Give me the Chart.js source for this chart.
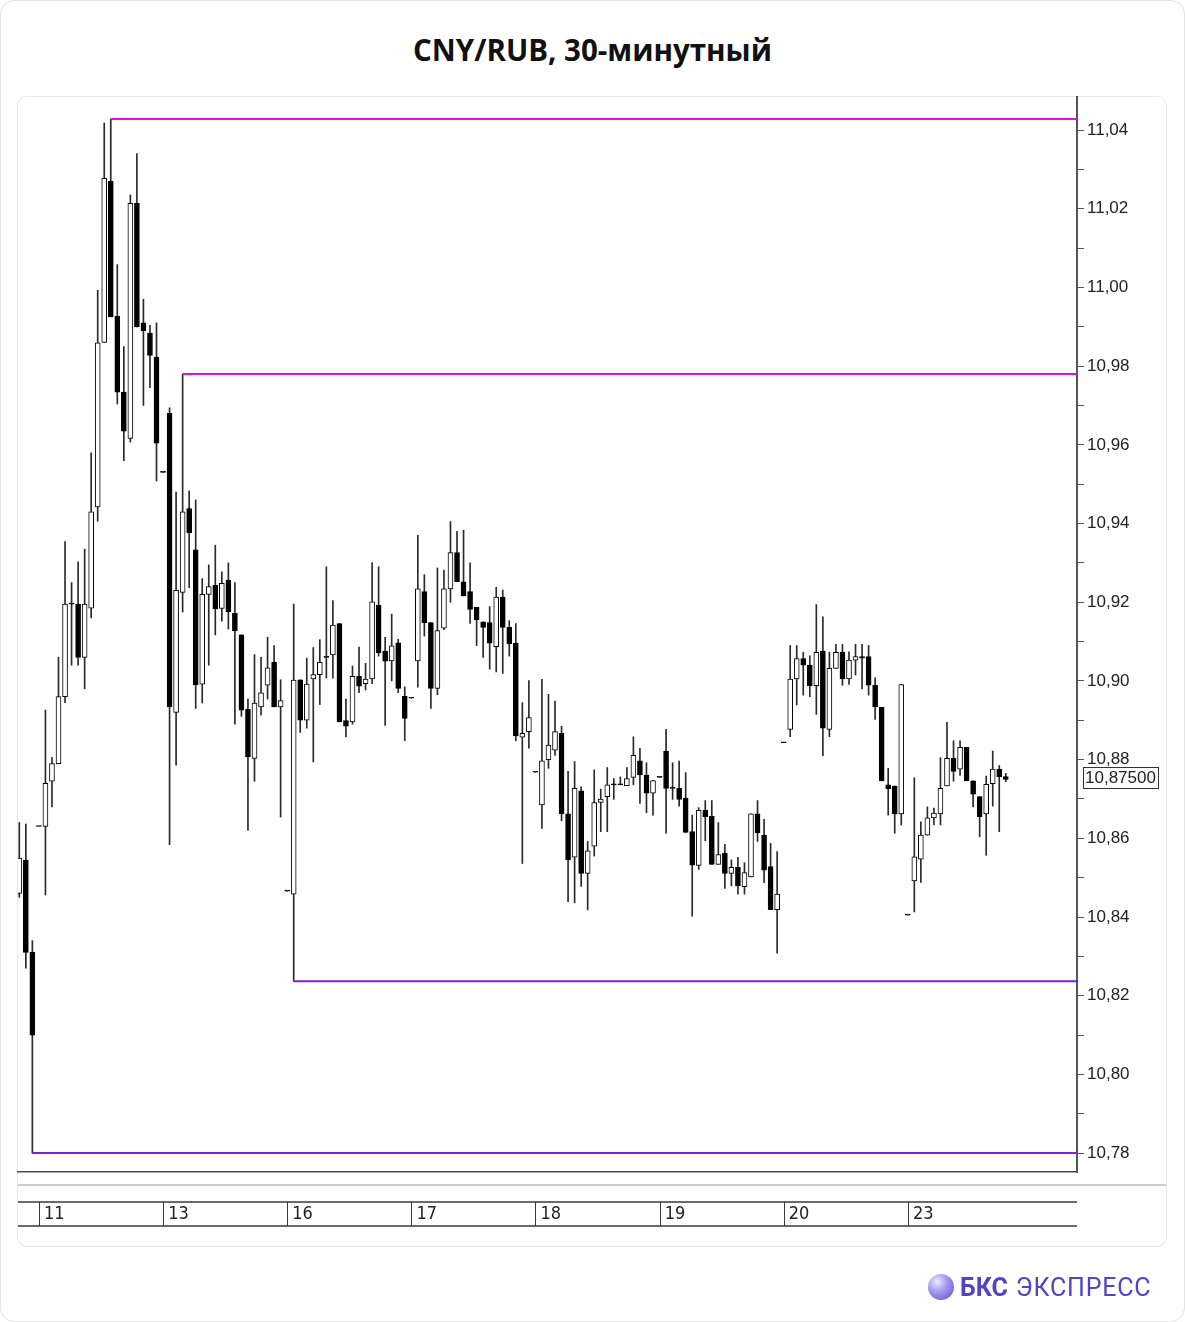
<!DOCTYPE html>
<html><head><meta charset="utf-8">
<script src="https://cdn.jsdelivr.net/npm/chart.js@4.4.1/dist/chart.umd.min.js"></script>
<style>
html,body{margin:0;padding:0;background:#fff;}
#page{position:relative;width:1185px;height:1322px;overflow:hidden;background:#fff;}
#frame{position:absolute;left:0;top:0;width:1183px;height:1320px;border:1px solid #e3e3e3;border-radius:14px;}
#card{position:absolute;left:17px;top:96px;width:1148px;height:1149px;border:1px solid #e8e8e8;border-radius:10px;}
#sep{position:absolute;left:18px;top:1184px;width:1148px;height:2px;background:#cdcdcd;}
#title{position:absolute;left:0;top:29px;width:1185px;text-align:center;font:700 29.5px 'Open Sans',sans-serif;color:#111;}
#logo{position:absolute;left:928px;top:1272px;height:30px;display:flex;align-items:center;font-family:'Roboto','Noto Sans',sans-serif;color:#5344c2;}
#logo .dot{width:26px;height:26px;border-radius:50%;background:radial-gradient(circle at 35% 30%,#eeeaff 0%,#a79af0 40%,#5a49c9 100%);margin-right:6px;}
#logo .b{font-weight:700;font-size:25px;margin-right:8px;}
#logo .r{font-weight:400;font-size:25px;letter-spacing:0.8px;}
canvas{position:absolute;left:0;top:0;}
</style></head>
<body><div id="page">
<div id="frame"></div>
<div id="card"></div>
<div id="sep"></div>
<div id="title">CNY/RUB, 30-минутный</div>
<canvas id="c" width="1185" height="1322"></canvas>
<div id="logo"><div class="dot"></div><span class="b">БКС</span><span class="r">ЭКСПРЕСС</span></div>
</div>
<script>
// ---- data (one entry per 30-minute slot) ----
const opens = [10.846,10.8545,10.831,10.863,10.863,10.8745,10.879,10.896,10.9195,10.9195,10.906,10.9185,10.9442,10.986,11.027,10.9927,10.9734,10.9616,11.0214,10.991,10.9884,10.9823,10.953,10.968,10.892,10.9225,10.9438,10.9333,10.8992,10.922,10.9243,10.9184,10.9256,10.9172,10.9117,10.8928,10.8803,10.8934,10.8989,10.9048,10.8934,10.8466,10.8458,10.9003,10.890,10.9005,10.9016,10.906,10.9066,10.9146,10.8899,10.8896,10.9012,10.8993,10.9005,10.9193,10.9076,10.9051,10.9097,10.8961,10.8956,10.9051,10.9227,10.9148,10.8981,10.9134,10.9234,10.9326,10.9252,10.9227,10.9187,10.915,10.9148,10.9087,10.9213,10.9136,10.9096,10.8857,10.8871,10.8768,10.8685,10.880,10.8824,10.8867,10.8662,10.8552,10.8721,10.8511,10.858,10.8691,10.8706,10.8736,10.8736,10.8734,10.8755,10.8797,10.8761,10.8715,10.8755,10.8822,10.8727,10.8727,10.8702,10.8617,10.8531,10.8671,10.8656,10.8534,10.8562,10.8511,10.8526,10.8477,10.8502,10.8662,10.8608,10.8528,10.8419,10.8843,10.8877,10.9005,10.9057,10.904,10.8988,10.9076,10.8877,10.9032,10.9073,10.9005,10.9053,10.9062,10.9062,10.8989,10.8933,10.8736,10.8733,10.8662,10.8405,10.8492,10.8547,10.8608,10.8652,10.8662,10.8733,10.8803,10.8776,10.8831,10.8746,10.8706,10.8662,10.8739,10.8776,10.8757];
const highs = [10.864,10.8636,10.834,10.863,10.8926,10.8806,10.906,10.9354,10.925,10.9303,10.9335,10.958,10.9993,11.0418,11.0428,11.0058,10.985,11.0235,11.034,10.997,10.9904,10.991,10.953,10.9694,10.948,10.978,10.9483,10.946,10.926,10.9295,10.9345,10.9277,10.930,10.925,10.9117,10.8954,10.9067,10.906,10.9111,10.909,10.9003,10.8466,10.9195,10.9003,10.9058,10.9085,10.9105,10.929,10.9204,10.9146,10.8954,10.9038,10.9086,10.9045,10.9301,10.929,10.9111,10.917,10.9106,10.8985,10.8956,10.937,10.927,10.9148,10.9287,10.9282,10.9405,10.938,10.9383,10.930,10.9187,10.915,10.9189,10.9238,10.9231,10.9153,10.9146,10.8945,10.9001,10.8768,10.9004,10.8966,10.8949,10.8885,10.877,10.8795,10.8731,10.8592,10.8774,10.8725,10.878,10.8752,10.8756,10.878,10.8858,10.8829,10.8792,10.8747,10.8755,10.8877,10.8792,10.8796,10.8767,10.8659,10.8678,10.8696,10.8696,10.864,10.8585,10.8545,10.8552,10.8538,10.8662,10.8696,10.8648,10.8587,10.8566,10.8843,10.909,10.909,10.9073,10.9064,10.9194,10.9163,10.9073,10.9093,10.9093,10.9074,10.9093,10.9093,10.909,10.9008,10.8933,10.8778,10.8733,10.8991,10.8405,10.8754,10.8642,10.868,10.8677,10.8805,10.8895,10.8848,10.8848,10.8831,10.8746,10.8706,10.8758,10.8822,10.8785,10.8765];
const lows = [10.845,10.827,10.780,10.863,10.8456,10.868,10.879,10.8945,10.904,10.904,10.898,10.916,10.9406,10.986,10.9925,10.9704,10.956,10.9607,10.99,10.970,10.9745,10.9508,10.953,10.8584,10.8786,10.9175,10.9237,10.893,10.8944,10.904,10.9117,10.9152,10.9132,10.889,10.891,10.862,10.8745,10.8913,10.8954,10.8934,10.8654,10.8466,10.8237,10.8869,10.888,10.8794,10.894,10.9008,10.9007,10.8896,10.8858,10.889,10.897,10.8977,10.8993,10.9063,10.8887,10.900,10.897,10.8848,10.8956,10.8984,10.9114,10.893,10.8965,10.913,10.920,10.9252,10.9216,10.9146,10.909,10.906,10.903,10.9023,10.9019,10.9063,10.8848,10.8536,10.8829,10.8768,10.8625,10.8778,10.8811,10.8645,10.8439,10.8436,10.8478,10.8418,10.8555,10.8617,10.8617,10.8699,10.8736,10.8734,10.8736,10.8689,10.8665,10.8659,10.8755,10.8613,10.8699,10.8682,10.8615,10.8402,10.8521,10.8594,10.8534,10.8534,10.8473,10.8479,10.8458,10.8458,10.8502,10.8592,10.8487,10.8419,10.8308,10.8843,10.8858,10.8939,10.8964,10.896,10.8915,10.881,10.8858,10.9032,10.8989,10.8991,10.9015,10.898,10.8964,10.8902,10.8746,10.8659,10.8613,10.8634,10.8405,10.8413,10.8488,10.8608,10.8634,10.8634,10.8733,10.8745,10.876,10.8746,10.868,10.8604,10.8557,10.8682,10.8617,10.8744];
const closes = [10.855,10.831,10.810,10.863,10.874,10.879,10.896,10.9195,10.9195,10.906,10.9195,10.943,10.9859,11.0277,10.9925,10.9734,10.9635,11.0214,10.99,10.989,10.9827,10.9604,10.953,10.8934,10.923,10.943,10.9377,10.899,10.922,10.924,10.9183,10.9248,10.9176,10.9127,10.8926,10.8807,10.8944,10.897,10.9033,10.8934,10.895,10.8466,10.9002,10.890,10.8992,10.9016,10.9047,10.906,10.9142,10.8896,10.8885,10.9012,10.8987,10.9005,10.9201,10.9072,10.905,10.9089,10.8981,10.8905,10.8956,10.9234,10.9148,10.8981,10.9128,10.9234,10.9326,10.9252,10.9216,10.9182,10.9155,10.9136,10.9096,10.9213,10.9136,10.9094,10.886,10.8867,10.8907,10.8768,10.8797,10.8837,10.8871,10.8662,10.8545,10.8727,10.8511,10.8568,10.8691,10.870,10.8736,10.8736,10.8736,10.8752,10.8811,10.8761,10.8715,10.8747,10.8755,10.8727,10.8727,10.8699,10.8615,10.8532,10.8671,10.8655,10.8534,10.8559,10.8511,10.8526,10.8479,10.8513,10.8662,10.8614,10.8519,10.8419,10.8458,10.8843,10.9005,10.9057,10.904,10.8988,10.9073,10.888,10.9032,10.9073,10.9005,10.9053,10.9062,10.9058,10.8989,10.8934,10.8746,10.8726,10.8662,10.8991,10.8405,10.8553,10.8608,10.8652,10.8664,10.8727,10.8803,10.877,10.8831,10.8746,10.8712,10.8655,10.8737,10.8776,10.8757,10.875];

const dayLabels = ['11','13','16','17','18','19','20','23'];
const dayStartSlots = [3,22,41,60,79,98,117,136];

const levelValues = [11.0428, 10.978, 10.8237, 10.78];
const levelStartSlots = [14, 25, 42, 2];
const levelColors = ['#e210e6','#e210e6','#7a22dc','#7a22dc'];

const xMin = -0.2, xMax = 161.9;
const yMin = 10.7752, yMax = 11.0484;

// ---- build datasets ----
const slots = opens.map((_, i) => i);
const wickData = slots.map(i => ({x: i, y: [lows[i], highs[i]]}));
const bodyData = slots.map(i => ({x: i, y: [opens[i], closes[i]]}));
const bodyColors = slots.map(i => closes[i] > opens[i] ? '#ffffff' : '#000000');

const levelSets = levelValues.map((v, k) => ({
  type: 'line',
  data: [{x: levelStartSlots[k], y: v}, {x: xMax, y: v}],
  borderColor: levelColors[k],
  borderWidth: 2,
  pointRadius: 0,
  order: -1
}));

const axisFont = {family: "'Liberation Sans', Arial, sans-serif", size: 17};
const dateFont = {family: "'Liberation Sans Narrow', 'DejaVu Sans Condensed', 'Liberation Sans', Arial, sans-serif", size: 18};

const stripPlugin = {
  id: 'strip',
  afterDraw(chart) {
    const {ctx, chartArea, scales: {x}} = chart;
    const top = 1202, bottom = 1226;
    ctx.save();
    ctx.strokeStyle = '#3a3a3a';
    ctx.lineWidth = 1.5;
    ctx.beginPath();
    ctx.moveTo(chartArea.left, top); ctx.lineTo(chartArea.right, top);
    ctx.moveTo(chartArea.left, bottom); ctx.lineTo(chartArea.right, bottom);
    ctx.stroke();
    ctx.lineWidth = 1;
    ctx.beginPath();
    dayStartSlots.forEach(s => {
      const px = Math.round(x.getPixelForValue(s)) + 0.5;
      ctx.moveTo(px, top); ctx.lineTo(px, bottom);
    });
    ctx.stroke();
    ctx.restore();
  }
};

const priceBoxPlugin = {
  id: 'priceBox',
  afterDraw(chart) {
    const {ctx, chartArea, scales: {y}} = chart;
    const last = closes[closes.length - 1];
    const py = Math.round(y.getPixelForValue(last)) - 2;
    const text = last.toFixed(5).replace('.', ',');
    ctx.save();
    ctx.font = "17px 'Liberation Sans', Arial, sans-serif";
    const w = Math.round(ctx.measureText(text).width) + 4;
    const x0 = Math.round(chartArea.right) + 6;
    ctx.fillStyle = '#fff';
    ctx.fillRect(x0, py - 10, w, 21);
    ctx.strokeStyle = '#333';
    ctx.lineWidth = 1;
    ctx.strokeRect(x0 + 0.5, py - 10 + 0.5, w, 21);
    ctx.fillStyle = '#222';
    ctx.textBaseline = 'middle';
    ctx.fillText(text, x0 + 2, py + 1);
    ctx.restore();
  }
};

new Chart(document.getElementById('c'), {
  type: 'bar',
  data: {
    datasets: [
      ...levelSets,
      {
        label: 'body',
        data: bodyData,
        backgroundColor: bodyColors,
        borderColor: '#000',
        borderWidth: 1,
        borderSkipped: false,
        barThickness: 5,
        minBarLength: 1,
        grouped: false,
        order: 0
      },
      {
        label: 'wick',
        data: wickData,
        backgroundColor: '#2a2a2a',
        borderWidth: 0,
        barThickness: 1,
        grouped: false,
        order: 1
      }
    ]
  },
  options: {
    responsive: false,
    animation: false,
    devicePixelRatio: 1,
    layout: {padding: {left: 18, top: 97, right: 18, bottom: 90}},
    plugins: {legend: {display: false}, tooltip: {enabled: false}, title: {display: false}},
    scales: {
      x: {
        type: 'linear',
        position: 'bottom',
        offset: false,
        min: xMin,
        max: xMax,
        afterFit(s) { s.height = 60; },
        afterBuildTicks(s) { s.ticks = dayStartSlots.map(v => ({value: v})); },
        ticks: {
          autoSkip: false,
          maxRotation: 0,
          align: 'start',
          padding: 32,
          color: '#222',
          font: dateFont,
          callback: (v) => { const k = dayStartSlots.indexOf(v); return k >= 0 ? ' ' + dayLabels[k] : ''; }
        },
        grid: {display: true, offset: false, drawOnChartArea: false, drawTicks: false},
        border: {display: true, color: '#4a4a4a', width: 1.5}
      },
      y: {
        type: 'linear',
        position: 'right',
        min: yMin,
        max: yMax,
        afterFit(s) { s.width = 90; },
        ticks: {
          stepSize: 0.01,
          includeBounds: false,
          autoSkip: false,
          padding: 3,
          color: '#222',
          font: axisFont,
          callback: (v) => (Math.round(v * 100) % 2 === 0 ? v.toFixed(2).replace('.', ',') : '')
        },
        grid: {drawOnChartArea: false, drawTicks: true, tickLength: 7, color: '#555', lineWidth: 1},
        border: {display: true, color: '#555', width: 2}
      }
    }
  },
  plugins: [stripPlugin, priceBoxPlugin]
});
</script>
</body></html>
